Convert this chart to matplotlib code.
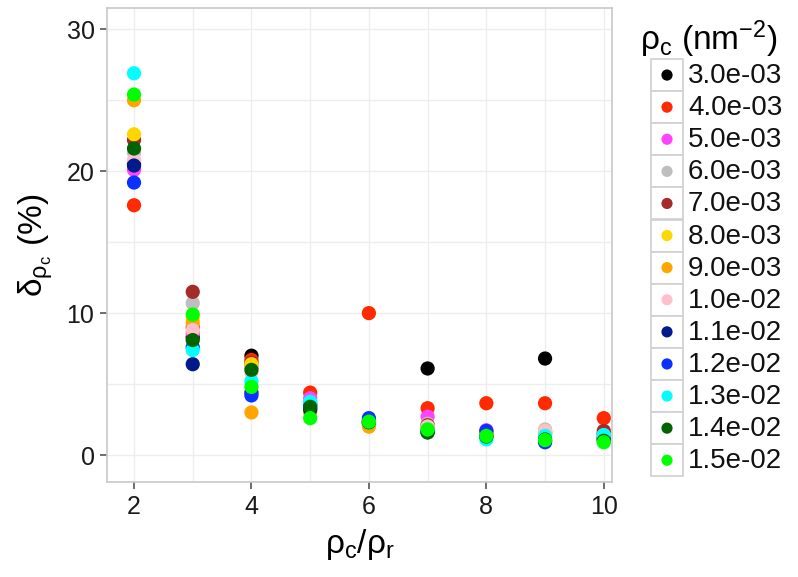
import matplotlib
matplotlib.use("Agg")
import matplotlib.pyplot as plt
from matplotlib.patches import Rectangle

plt.rcParams["font.family"] = ["Liberation Sans", "DejaVu Sans"]
plt.rcParams["mathtext.fontset"] = "custom"
plt.rcParams["mathtext.rm"] = "Liberation Sans"
plt.rcParams["mathtext.it"] = "Liberation Sans"

# ratio rho_c / rho_r
ratio = [2, 3, 4, 5, 6, 7, 8, 9, 10]

labels = ["3.0e-03", "4.0e-03", "5.0e-03", "6.0e-03", "7.0e-03", "8.0e-03",
          "9.0e-03", "1.0e-02", "1.1e-02", "1.2e-02", "1.3e-02", "1.4e-02",
          "1.5e-02"]
colors = ["#000000", "#FF2A00", "#FF44FF", "#BEBEBE", "#A52A2A", "#FFD700",
          "#FFA500", "#FFC0CB", "#001A8C", "#0A32FF", "#00FFFF", "#006400",
          "#00FF00"]

d_3_0e3 = [20.5, 8.3, 7.0, 3.3, 2.3, 6.1, 1.5, 6.8, 1.5]
d_4_0e3 = [17.6, 9.0, 6.7, 4.4, 10.0, 3.3, 3.65, 3.65, 2.6]
d_5_0e3 = [20.1, 8.6, 6.2, 4.0, 2.4, 2.7, 1.75, 1.6, 1.4]
d_6_0e3 = [21.3, 10.7, 6.3, 3.7, 2.3, 2.2, 1.6, 1.8, 1.5]
d_7_0e3 = [22.2, 11.5, 6.5, 3.6, 2.2, 2.1, 1.6, 1.5, 1.7]
d_8_0e3 = [22.6, 9.6, 6.4, 3.2, 2.2, 2.0, 1.5, 1.7, 1.3]
d_9_0e3 = [25.0, 9.3, 3.0, 3.0, 2.0, 1.9, 1.5, 1.6, 1.2]
d_1_0e2 = [20.8, 8.8, 5.8, 3.5, 2.3, 2.0, 1.6, 1.7, 1.4]
d_1_1e2 = [20.4, 6.4, 4.4, 3.2, 2.4, 1.6, 1.3, 1.0, 1.1]
d_1_2e2 = [19.2, 7.6, 4.2, 3.5, 2.6, 1.7, 1.7, 0.9, 1.2]
d_1_3e2 = [26.9, 7.4, 5.2, 3.75, 2.3, 1.8, 1.1, 1.35, 1.4]
d_1_4e2 = [21.6, 8.1, 6.0, 3.4, 2.3, 1.6, 1.3, 1.1, 1.0]
d_1_5e2 = [25.4, 9.9, 4.8, 2.6, 2.35, 1.8, 1.35, 1.05, 0.9]

series = [d_3_0e3, d_4_0e3, d_5_0e3, d_6_0e3, d_7_0e3, d_8_0e3, d_9_0e3,
          d_1_0e2, d_1_1e2, d_1_2e2, d_1_3e2, d_1_4e2, d_1_5e2]

W, H = 798, 577
fig = plt.figure(figsize=(W / 100, H / 100), dpi=100)
ax = fig.add_axes([107 / W, 1 - 482 / H, (612 - 107) / W, (482 - 8) / H])

for values, color, label in zip(series, colors, labels):
    ax.scatter(ratio, values, s=105, color=color, edgecolors="none",
               label=label, zorder=3)

ax.set_xlim(1.54, 10.14)
ax.set_ylim(-1.9, 31.5)
ax.set_xticks([2, 4, 6, 8, 10])
ax.set_yticks([0, 10, 20, 30])
ax.set_xticks([3, 5, 7, 9], minor=True)
ax.set_yticks([5, 15, 25], minor=True)
ax.grid(True, which="both", color="#EDEDED", linewidth=1.0, zorder=0)
ax.set_axisbelow(True)
for sp in ax.spines.values():
    sp.set_color("#C8C8C8")
    sp.set_linewidth(1.2)
ax.tick_params(axis="both", which="major", direction="out", length=5,
               width=1.2, color="#555555", labelsize=18, labelcolor="#1A1A1A",
               pad=4)
ax.tick_params(axis="both", which="minor", length=0)

ax.set_xlabel(r"$\mathregular{ρ_c/ρ_r}$", fontsize=24, labelpad=6)
ax.set_ylabel(r"$\mathregular{δ_{ρ_c}}$ (%)", fontsize=24, labelpad=8)

# ggplot-style legend with boxed keys
lax = fig.add_axes([0, 0, 1, 1])
lax.set_xlim(0, W)
lax.set_ylim(H, 0)
lax.axis("off")
lax.text(640, 50, r"$\mathregular{ρ_c}$ (nm$\mathregular{^{-2}}$)", fontsize=24,
         ha="left", va="baseline")
key_top = 59
key_h = 32.1
for i, (color, label) in enumerate(zip(colors, labels)):
    y0 = key_top + i * key_h
    lax.add_patch(Rectangle((651, y0), 32, key_h, facecolor="white",
                            edgecolor="#D0D0D0", linewidth=1.2))
    lax.scatter([667], [y0 + key_h / 2], s=65, color=color, edgecolors="none")
    lax.text(688, y0 + key_h / 2 + 1, label, fontsize=20, ha="left",
             va="center", color="#111111")

fig.savefig("out.png", dpi=100)
